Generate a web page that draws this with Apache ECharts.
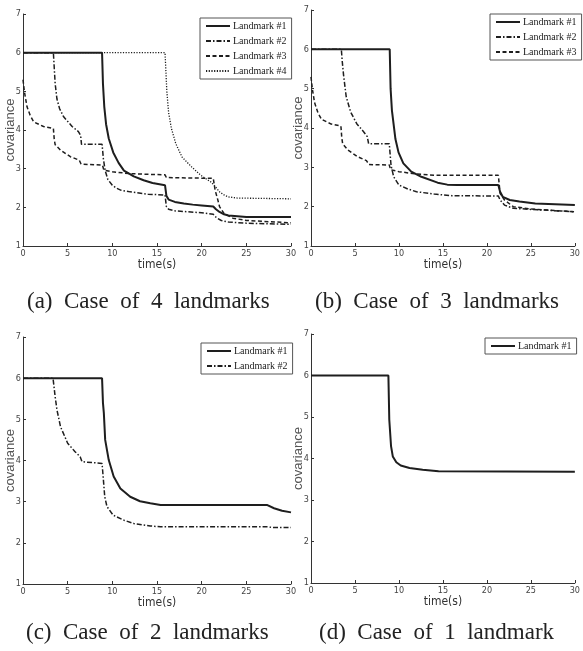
<!DOCTYPE html>
<html>
<head>
<meta charset="utf-8">
<script src="https://cdn.jsdelivr.net/npm/echarts@6/dist/echarts.min.js"></script>
<style>
  html, body { margin: 0; padding: 0; background: #fff; }
  #chart { width: 583px; height: 651px; }
</style>
</head>
<body>
<div id="chart"></div>
<script>
// Covariance of each landmark estimate over time, [time (s), covariance] pairs.

// (a) four landmarks
const caseA_L1 = [[0,6],[8.85,6],[8.95,5.2],[9.1,4.6],[9.3,4.15],[9.6,3.78],[10.1,3.42],[10.7,3.15],[11.3,2.95],[12.4,2.8],[13.5,2.7],[14.5,2.63],[15.9,2.57],[16.05,2.3],[16.3,2.2],[17,2.14],[18,2.1],[19,2.07],[20,2.05],[21.3,2.02],[21.6,1.95],[22,1.88],[22.5,1.82],[23,1.79],[24,1.77],[25,1.75],[30,1.75]];
const caseA_L2 = [[0,6],[3.4,6],[3.45,5.8],[3.6,5.2],[3.8,4.8],[4.1,4.55],[4.55,4.34],[5.5,4.09],[6.2,3.96],[6.45,3.86],[6.55,3.63],[8.85,3.63],[9.0,3.25],[9.2,2.95],[9.5,2.72],[10,2.57],[10.5,2.49],[11,2.44],[12,2.4],[14,2.34],[15.9,2.32],[16.05,2.02],[16.3,1.95],[17,1.91],[20,1.86],[21.3,1.82],[21.7,1.72],[22.2,1.66],[23,1.62],[25,1.59],[30,1.56]];
const caseA_L3 = [[0,5.3],[0.15,5.0],[0.45,4.6],[0.8,4.38],[1.2,4.21],[2.3,4.09],[3.4,4.04],[3.5,3.75],[3.6,3.62],[4.2,3.48],[5.3,3.31],[6.3,3.22],[6.5,3.12],[6.6,3.09],[8.9,3.09],[9.05,2.96],[10,2.92],[12,2.87],[15.9,2.84],[16.05,2.77],[21.3,2.75],[21.5,2.45],[21.8,2.2],[22,2.02],[22.5,1.84],[23.5,1.72],[25,1.66],[30,1.6]];
const caseA_L4 = [[0,6],[15.9,6],[16.0,5.5],[16.1,5.0],[16.3,4.45],[16.6,4.05],[17.1,3.65],[17.8,3.3],[18.9,3.04],[19.9,2.83],[21.0,2.66],[21.4,2.57],[22.0,2.4],[22.5,2.32],[23.0,2.27],[24.0,2.24],[30,2.22]];

// (b) three landmarks
const caseB_L1 = [[0,6],[8.95,6],[9.05,5.0],[9.2,4.45],[9.6,3.72],[9.95,3.38],[10.5,3.1],[11.4,2.89],[12.55,2.76],[14.4,2.61],[15.5,2.56],[16.6,2.55],[21.3,2.55],[21.5,2.38],[21.8,2.25],[22.6,2.17],[23.7,2.13],[25.5,2.08],[30,2.04]];
const caseB_L2 = [[0,6],[3.45,6],[3.55,5.7],[3.7,5.35],[4.0,4.8],[4.5,4.41],[5.2,4.11],[6,3.9],[6.4,3.78],[6.55,3.6],[8.9,3.6],[9.1,3.05],[9.4,2.76],[10,2.55],[11,2.45],[12,2.38],[14,2.32],[16,2.28],[21.3,2.27],[21.5,2.17],[22,2.04],[23,1.96],[25,1.93],[30,1.87]];
const caseB_L3 = [[0,5.3],[0.15,5.0],[0.4,4.65],[0.8,4.38],[1.2,4.22],[2.3,4.1],[3.4,4.05],[3.5,3.75],[3.6,3.6],[4.2,3.44],[5.3,3.27],[6.3,3.17],[6.6,3.07],[8.9,3.06],[9.05,2.94],[10,2.89],[12,2.83],[14,2.8],[21.3,2.8],[21.5,2.34],[22,2.17],[23,2.0],[25,1.94],[30,1.87]];

// (c) two landmarks
const caseC_L1 = [[0,6],[8.85,6],[8.95,5.4],[9.05,5.15],[9.2,4.5],[9.6,4.01],[10.15,3.61],[10.9,3.32],[12,3.12],[13.1,3.01],[14.25,2.96],[15.4,2.92],[27.3,2.92],[28.1,2.84],[29,2.78],[30,2.74]];
const caseC_L2 = [[0,6],[3.36,6],[3.6,5.55],[3.8,5.23],[4.2,4.82],[5,4.42],[5.8,4.22],[6.4,4.09],[6.6,3.97],[8.85,3.93],[9.0,3.53],[9.15,3.12],[9.4,2.88],[10.1,2.67],[11.3,2.55],[12.4,2.47],[14.25,2.41],[15.4,2.39],[27.3,2.39],[28,2.37],[30,2.37]];

// (d) one landmark
const caseD_L1 = [[0,6],[8.8,6],[8.9,4.94],[9.1,4.3],[9.3,4.05],[9.7,3.91],[10.2,3.83],[11.2,3.77],[12.7,3.73],[14.5,3.69],[30,3.68]];

const landmarkNames = ['Landmark #1', 'Landmark #2', 'Landmark #3', 'Landmark #4'];
const captions = ['(a)  Case  of  4  landmarks', '(b)  Case  of  3  landmarks', '(c)  Case  of  2  landmarks', '(d)  Case  of  1  landmark'];
const panels = [
  [caseA_L1, caseA_L2, caseA_L3, caseA_L4],
  [caseB_L1, caseB_L2, caseB_L3],
  [caseC_L1, caseC_L2],
  [caseD_L1]
];

// layout of the 2x2 panels
const gridBoxes = [
  { left: 23, top: 14, width: 268, height: 232 },
  { left: 311, top: 10, width: 269, height: 236 },
  { left: 23, top: 337, width: 268, height: 247 },
  { left: 311, top: 334, width: 266, height: 249 }
];
const legendPos = [[200, 18], [490, 14], [201, 343], [485, 338]];
const captionPos = [[27, 290], [315, 290], [26, 621], [319, 621]];

const ink = '#1e1e1e';
const lineStyles = [
  { type: 'solid', width: 2 },
  { type: [5, 2, 1.5, 2], width: 1.5 },
  { type: [4, 2.5], width: 1.5 },
  { type: [1.2, 1.5], width: 1.3 }
];

const tickFont = '"Liberation Sans Narrow", "DejaVu Sans Condensed", "Liberation Sans", sans-serif';

const grid = gridBoxes.map(g => Object.assign({ containLabel: false }, g));

const xAxis = gridBoxes.map((g, i) => ({
  gridIndex: i,
  type: 'value',
  min: 0, max: 30, interval: 5,
  name: 'time(s)',
  nameLocation: 'middle',
  nameGap: 13,
  nameMoveOverlap: false,
  nameTextStyle: { fontFamily: tickFont, fontSize: 12, color: '#333' },
  axisLine: { lineStyle: { color: '#333', width: 1 } },
  axisTick: { inside: true, length: 3, lineStyle: { color: '#333' } },
  axisLabel: { fontFamily: tickFont, fontSize: 9, color: '#444', margin: 3 },
  splitLine: { show: false }
}));

const yAxis = gridBoxes.map((g, i) => ({
  gridIndex: i,
  type: 'value',
  min: 1, max: 7, interval: 1,
  name: 'covariance',
  nameLocation: 'middle',
  nameGap: 6,
  nameMoveOverlap: false,
  nameTextStyle: { fontFamily: '"Liberation Sans", Arial, sans-serif', fontSize: 13, color: '#555' },
  axisLine: { show: true, lineStyle: { color: '#333', width: 1 } },
  axisTick: { show: true, inside: true, length: 3, lineStyle: { color: '#333' } },
  axisLabel: { fontFamily: tickFont, fontSize: 9, color: '#444', margin: 2 },
  splitLine: { show: false }
}));

const series = [];
panels.forEach((curves, p) => {
  curves.forEach((data, k) => {
    series.push({
      type: 'line',
      name: landmarkNames[k],
      xAxisIndex: p,
      yAxisIndex: p,
      data: data,
      symbol: 'none',
      showSymbol: false,
      lineStyle: Object.assign({ color: ink }, lineStyles[k]),
      itemStyle: { color: ink },
      silent: true
    });
  });
});

// legend keys show only the line pattern, no marker
const legend = panels.map((curves, p) => ({
  orient: 'vertical',
  left: legendPos[p][0],
  top: legendPos[p][1],
  data: landmarkNames.slice(0, curves.length),
  itemWidth: 24,
  itemHeight: 10,
  itemGap: 5,
  padding: [3, 5, 3, 5],
  borderColor: '#555',
  borderWidth: 1,
  backgroundColor: '#fff',
  selectedMode: false,
  itemStyle: { opacity: 0 },
  textStyle: { fontFamily: '"Liberation Serif", "DejaVu Serif", serif', fontSize: 10, color: '#222', padding: [0, 0, 0, -2] }
}));

const title = captions.map((text, p) => ({
  text: text,
  left: captionPos[p][0],
  top: captionPos[p][1],
  padding: 0,
  textStyle: { fontFamily: '"Liberation Serif", "DejaVu Serif", serif', fontSize: 23, fontWeight: 'normal', color: '#222' }
}));

const chart = echarts.init(document.getElementById('chart'), null, { renderer: 'canvas' });
chart.setOption({
  animation: false,
  backgroundColor: '#fff',
  title: title,
  legend: legend,
  grid: grid,
  xAxis: xAxis,
  yAxis: yAxis,
  series: series
});
</script>
</body>
</html>
